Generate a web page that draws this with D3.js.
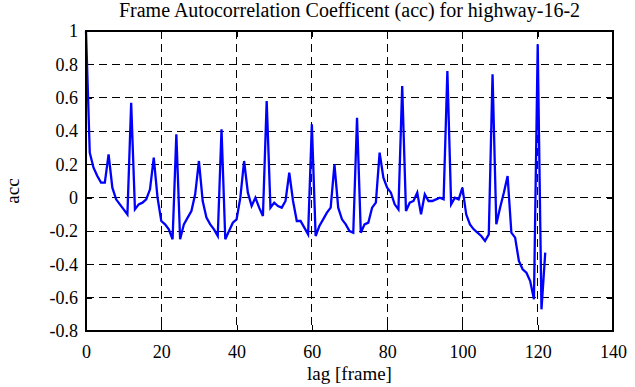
<!DOCTYPE html>
<html>
<head>
<meta charset="UTF-8">
<title>Frame Autocorrelation Coefficent</title>
<script src="https://d3js.org/d3.v7.min.js"></script>
<style>
	body { margin: 0; background: #fff; }
	.grid line { stroke: #000; stroke-width: 1; stroke-dasharray: 8,5; shape-rendering: crispEdges; }
	.axis line { stroke: #000; stroke-width: 1; shape-rendering: crispEdges; }
	.axis path { display: none; }
</style>
</head>
<body>
<svg class="chart" width="635" height="387"></svg>
<script>
// lag in frames, 0..122
var lags = d3.range(0, 123);
// autocorrelation coefficient, one per lag
var acc = [
	1.0, 0.27, 0.18, 0.13, 0.09, 0.09, 0.26, 0.06, -0.01, -0.04,
	-0.07, -0.10, 0.57, -0.07, -0.04, -0.03, -0.01, 0.05, 0.24, 0.0,
	-0.14, -0.16, -0.19, -0.25, 0.38, -0.25, -0.16, -0.12, -0.08, 0.02,
	0.22, -0.02, -0.12, -0.16, -0.19, -0.23, 0.41, -0.25, -0.20, -0.15,
	-0.13, 0.0, 0.22, 0.03, -0.05, 0.0, -0.06, -0.11, 0.58, -0.06,
	-0.03, -0.05, -0.06, -0.02, 0.15, -0.02, -0.14, -0.14, -0.18, -0.22,
	0.44, -0.23, -0.17, -0.13, -0.09, -0.06, 0.20, -0.06, -0.13, -0.16,
	-0.20, -0.21, 0.48, -0.21, -0.16, -0.15, -0.06, -0.03, 0.27, 0.12,
	0.06, 0.03, -0.04, -0.07, 0.67, -0.08, -0.03, -0.02, 0.03, -0.10,
	0.02, -0.02, -0.02, -0.01, 0.0, -0.01, 0.76, -0.04, 0.0, -0.01,
	0.06, -0.10, -0.16, -0.19, -0.21, -0.23, -0.26, -0.22, 0.74, -0.16,
	-0.06, 0.03, 0.13, -0.21, -0.24, -0.38, -0.43, -0.45, -0.50, -0.61,
	0.92, -0.67, -0.33
];
var xTicks = [0, 20, 40, 60, 80, 100, 120, 140];
var yTicks = [-0.8, -0.6, -0.4, -0.2, 0, 0.2, 0.4, 0.6, 0.8, 1];
var yTickLabels = ["-0.8", "-0.6", "-0.4", "-0.2", "0", "0.2", "0.4", "0.6", "0.8", "1"];

var serif = "'Liberation Serif', 'Times New Roman', serif";

var svg = d3.select(".chart"),
	margin = {top: 31, right: 22, bottom: 56, left: 86},
	width = +svg.attr("width") - margin.left - margin.right,
	height = +svg.attr("height") - margin.top - margin.bottom;

svg.append("rect").attr("width", 635).attr("height", 387).attr("fill", "#fff");

var g = svg.append("g").attr("transform", "translate(" + margin.left + "," + margin.top + ")");

var x = d3.scaleLinear().domain([0, 140]).range([0, width]);
var y = d3.scaleLinear().domain([-0.8, 1]).range([height, 0]);

//------------------------------------------------------------------
// dashed grid
g.append("g").attr("class", "grid")
	.selectAll("line")
	.data(xTicks.slice(1, -1))
	.enter().append("line")
	.attr("x1", d => x(d)).attr("x2", d => x(d))
	.attr("y1", 0).attr("y2", height);

g.append("g").attr("class", "grid")
	.selectAll("line")
	.data(yTicks.slice(1, -1))
	.enter().append("line")
	.attr("x1", 0).attr("x2", width)
	.attr("y1", d => y(d)).attr("y2", d => y(d));

//------------------------------------------------------------------
// axes, ticks pointing inwards
var xAxis = g.append("g").attr("class", "axis")
	.attr("transform", "translate(0," + height + ")")
	.call(d3.axisBottom(x).tickValues(xTicks).tickSizeInner(-6).tickSizeOuter(0).tickPadding(14).tickFormat(d3.format("d")));

g.append("g").attr("class", "axis")
	.call(d3.axisTop(x).tickValues(xTicks).tickSizeInner(-6).tickSizeOuter(0).tickFormat(""));

var yAxis = g.append("g").attr("class", "axis")
	.call(d3.axisLeft(y).tickValues(yTicks).tickSizeInner(-6).tickSizeOuter(0).tickPadding(8)
		.tickFormat((d, i) => yTickLabels[i]));

g.append("g").attr("class", "axis")
	.attr("transform", "translate(" + width + ",0)")
	.call(d3.axisRight(y).tickValues(yTicks).tickSizeInner(-6).tickSizeOuter(0).tickFormat(""));

[xAxis, yAxis].forEach(a => a.selectAll("text")
	.style("font-family", serif)
	.style("font-size", "18px")
	.style("fill", "#000"));

//------------------------------------------------------------------
// series
var line = d3.line()
	.x((d, i) => x(lags[i]))
	.y(d => y(d));

g.append("path")
	.datum(acc)
	.attr("fill", "none")
	.attr("stroke", "#0000ff")
	.attr("stroke-width", 2.3)
	.attr("stroke-linejoin", "miter")
	.attr("d", line);

// frame
g.append("rect")
	.attr("width", width).attr("height", height)
	.attr("fill", "none")
	.attr("stroke", "#000")
	.attr("stroke-width", 2);

//------------------------------------------------------------------
// titles
svg.append("text")
	.attr("x", margin.left + width / 2).attr("y", 17)
	.attr("text-anchor", "middle")
	.style("font-family", serif)
	.style("font-size", "20px")
	.text("Frame Autocorrelation Coefficent (acc) for highway-16-2");

svg.append("text")
	.attr("x", margin.left + width / 2).attr("y", 380)
	.attr("text-anchor", "middle")
	.style("font-family", serif)
	.style("font-size", "19px")
	.text("lag [frame]");

svg.append("text")
	.attr("transform", "translate(19,191) rotate(-90)")
	.attr("text-anchor", "middle")
	.style("font-family", serif)
	.style("font-size", "19px")
	.text("acc");
</script>
</body>
</html>
